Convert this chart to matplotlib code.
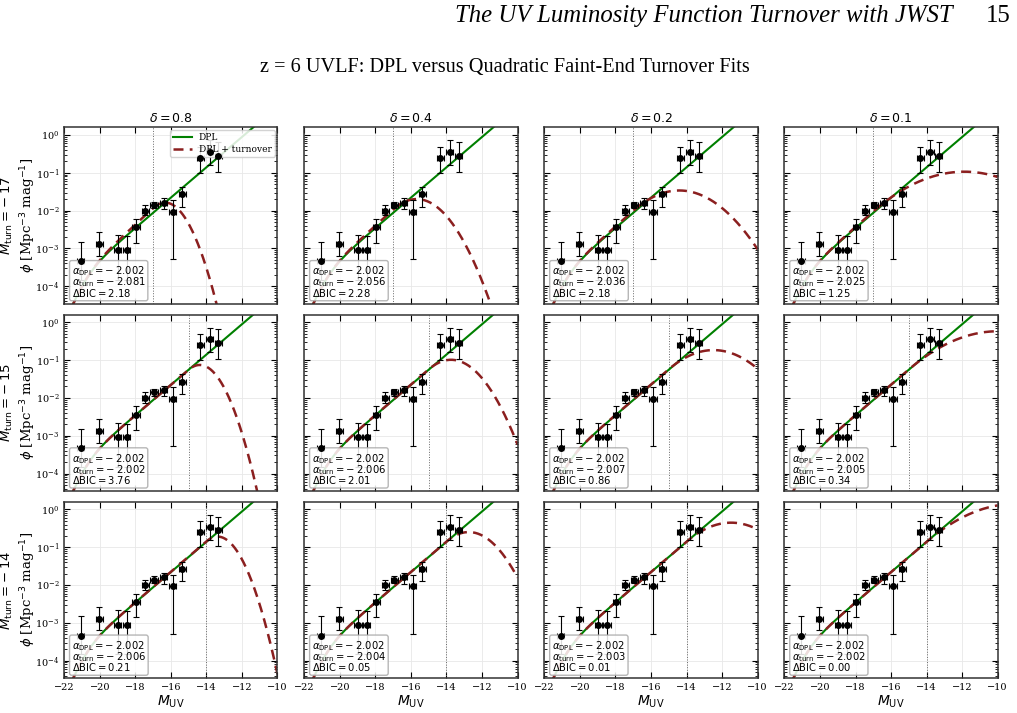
import numpy as np
import matplotlib
matplotlib.use("Agg")
import matplotlib.pyplot as plt

plt.rcParams['font.family'] = 'serif'
plt.rcParams['font.serif'] = ['DejaVu Serif']
plt.rcParams['mathtext.fontset'] = 'dejavusans'

# binned z=6 UVLF points
m_uv = [-21.07, -20.04, -18.98, -18.48, -17.96, -17.44, -16.95, -16.41, -15.89, -15.37, -14.35, -13.81, -13.32]
phi = [4.6e-4, 1.3e-3, 9.0e-4, 9.0e-4, 3.6e-3, 1.0e-2, 1.4e-2, 1.6e-2, 9.3e-3, 2.7e-2, 0.25, 0.35, 0.28]
phi_lo = [1.5e-4, 6.5e-4, 1.5e-4, 1.5e-4, 1.4e-3, 7.5e-3, 1.15e-2, 1.1e-2, 5.2e-4, 1.25e-2, 0.10, 0.16, 0.105]
phi_hi = [1.5e-3, 2.7e-3, 2.2e-3, 2.1e-3, 6.0e-3, 1.4e-2, 1.7e-2, 2.1e-2, 1.9e-2, 4.2e-2, 0.49, 0.72, 0.65]
m_err = 0.2

# fit parameters
deltas = [0.8, 0.4, 0.2, 0.1]
m_turns = [-17, -15, -14]
alpha_dpl = -2.002
alpha_turn = [[-2.081, -2.056, -2.036, -2.025],
              [-2.002, -2.006, -2.007, -2.005],
              [-2.006, -2.004, -2.003, -2.002]]
dbic = [[2.18, 2.28, 2.18, 1.25],
        [3.76, 2.01, 0.86, 0.34],
        [0.21, 0.05, 0.01, 0.00]]
log_phistar = -3.62
m_star = -20.9
beta = -4.0


def dpl(M, alpha):
    x = M - m_star
    return 10**log_phistar / (10**(0.4*(alpha+1)*x) + 10**(0.4*(beta+1)*x))


def dpl_turn(M, alpha, mt, delta):
    out = dpl(M, alpha)
    fade = np.where(M > mt, 10**(-0.4*delta*(M - mt)**2), 1.0)
    return out * fade


W, H = 1017, 713
fig, axes = plt.subplots(3, 4, figsize=(W/100, H/100), dpi=100, sharex=True, sharey=True)
fig.subplots_adjust(left=0.0632, right=0.981, top=0.8215, bottom=0.0491, wspace=0.126, hspace=0.0625)

M = np.linspace(-22, -10, 400)
yerr = [np.array(phi) - np.array(phi_lo), np.array(phi_hi) - np.array(phi)]

for i, mt in enumerate(m_turns):
    for j, d in enumerate(deltas):
        ax = axes[i, j]
        ax.set_yscale('log')
        ax.grid(True, which='major', color='#e8e8e8', lw=0.6)
        ax.set_axisbelow(True)
        ax.axvline(mt, color='#666666', ls=':', lw=0.7)
        ax.plot(M, dpl(M, alpha_dpl), color='green', lw=1.5, label='DPL')
        ax.plot(M, dpl_turn(M, alpha_turn[i][j], mt, d), color='#8b1f1f', lw=1.8,
                ls=(0, (4, 2.5)), label='DPL + turnover')
        ax.errorbar(m_uv, phi, xerr=m_err, yerr=yerr, fmt='none', ecolor='black',
                    elinewidth=0.8, capsize=2, capthick=0.8, zorder=5)
        ax.plot(m_uv, phi, 'o', color='black', ms=4, zorder=7)
        txt = (r"$\alpha_{\rm DPL} = -\:%.3f$" % abs(alpha_dpl) + "\n" +
               r"$\alpha_{\rm turn} = -\:%.3f$" % abs(alpha_turn[i][j]) + "\n" +
               r"$\Delta{\rm BIC} = %.2f$" % dbic[i][j])
        ax.text(0.035, 0.028, txt, transform=ax.transAxes, fontsize=7.2, va='bottom', ha='left',
                linespacing=0.72, zorder=6,
                bbox=dict(boxstyle='round,pad=0.22', fc='white', ec='#aaaaaa', alpha=0.85))
        ax.set_xlim(-22, -10)
        ax.set_ylim(3.5e-5, 1.6)
        ax.set_xticks([-22, -20, -18, -16, -14, -12, -10])
        ax.set_yticks([1e-4, 1e-3, 1e-2, 1e-1, 1e0])
        ax.tick_params(which='both', direction='in', top=True, right=True, labelsize=7)
        ax.tick_params(which='major', length=4)
        ax.tick_params(which='minor', length=2)
        for s in ax.spines.values():
            s.set_color('#333333')
            s.set_linewidth(1.1)
        if i == 0:
            ax.set_title(r"$\delta = %.1f$" % d, fontsize=9, pad=4)
        if i == 2:
            ax.set_xlabel(r"$M_{\rm UV}$", fontsize=10, labelpad=1)
        if j == 0:
            ax.set_ylabel(r"$M_{\rm turn} = -\:%d$" % abs(mt) + "\n" + r"$\phi$ [Mpc$^{-3}$ mag$^{-1}$]",
                          fontsize=9.5)
            ax.yaxis.set_label_coords(-0.125, 0.5)

axes[0, 0].legend(loc='upper right', fontsize=6.5, framealpha=0.85, borderaxespad=0.3,
                  handlelength=2.0, labelspacing=0.3, borderpad=0.35)

fig.text(0.496, 0.905, "z = 6 UVLF: DPL versus Quadratic Faint-End Turnover Fits",
         ha='center', va='center', family='Liberation Serif', fontsize=14.6)
fig.text(0.937, 0.978, "The UV Luminosity Function Turnover with JWST", ha='right', va='center',
         family='Liberation Serif', style='italic', fontsize=17.8)
fig.text(0.994, 0.978, "15", ha='right', va='center', family='Liberation Serif', fontsize=17.8)

fig.savefig("out.png", dpi=100)
